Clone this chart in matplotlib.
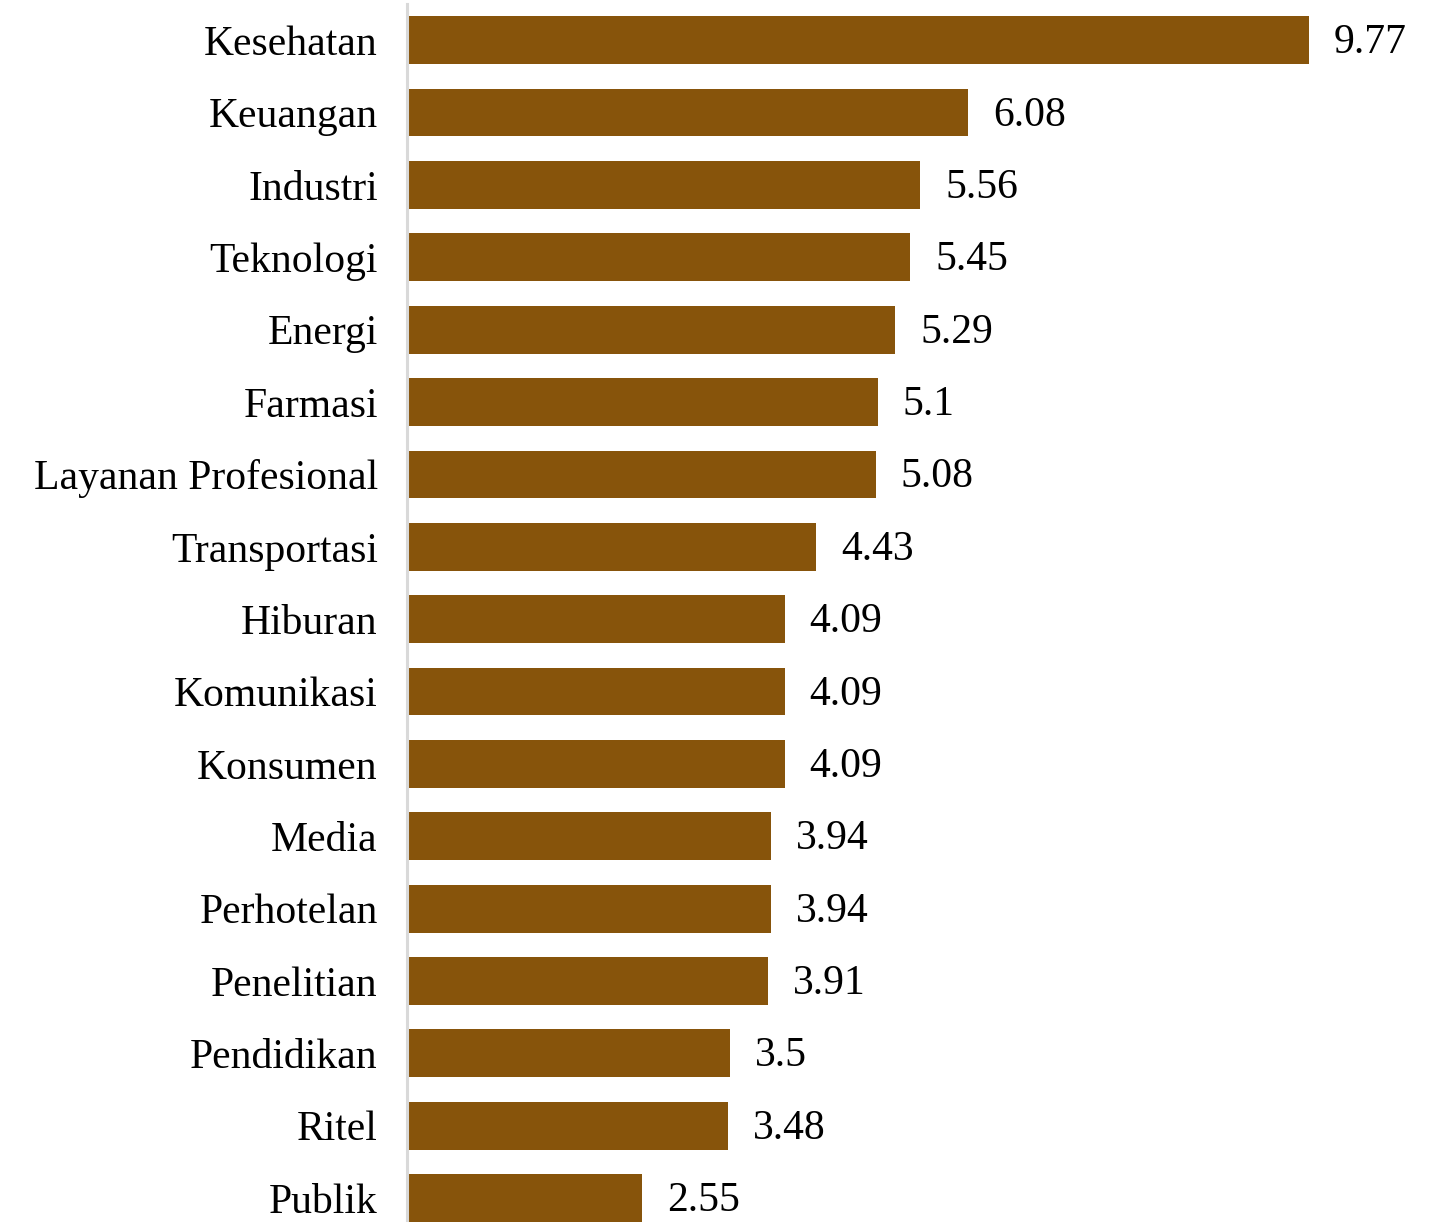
import matplotlib.pyplot as plt

sectors = ["Kesehatan", "Keuangan", "Industri", "Teknologi", "Energi",
           "Farmasi", "Layanan Profesional", "Transportasi", "Hiburan",
           "Komunikasi", "Konsumen", "Media", "Perhotelan", "Penelitian",
           "Pendidikan", "Ritel", "Publik"]
values = [9.77, 6.08, 5.56, 5.45, 5.29, 5.1, 5.08, 4.43, 4.09,
          4.09, 4.09, 3.94, 3.94, 3.91, 3.5, 3.48, 2.55]
value_labels = ["9.77", "6.08", "5.56", "5.45", "5.29", "5.1", "5.08", "4.43",
                "4.09", "4.09", "4.09", "3.94", "3.94", "3.91", "3.5", "3.48",
                "2.55"]

BAR_COLOR = "#87540b"
W, H = 1443, 1222

plt.rcParams['font.family'] = ['Liberation Serif', 'DejaVu Serif']

fig = plt.figure(figsize=(W / 100, H / 100), dpi=100)
ax = fig.add_axes([407 / W, 0, 1 - 407 / W, 1 - 4 / H])

pos = list(range(len(sectors)))
ax.barh(pos, values, height=0.66, color=BAR_COLOR)

for y, v, lab in zip(pos, values, value_labels):
    ax.annotate(lab, (v, y), xytext=(18, -2), textcoords='offset points',
                va='center', ha='left', fontsize=30, color='black')

ax.set_xlim(0, (W - 407) / 92.3)
ax.set_ylim(16.33, -0.5)
ax.set_yticks(pos)
ax.set_yticklabels(sectors, fontsize=30, va='center_baseline')
ax.set_xticks([])
ax.tick_params(axis='y', length=0, pad=21)

for side in ['top', 'right', 'bottom']:
    ax.spines[side].set_visible(False)
ax.spines['left'].set_color('#d9d9d9')
ax.spines['left'].set_linewidth(2.2)

fig.savefig('out.png', dpi=100)
